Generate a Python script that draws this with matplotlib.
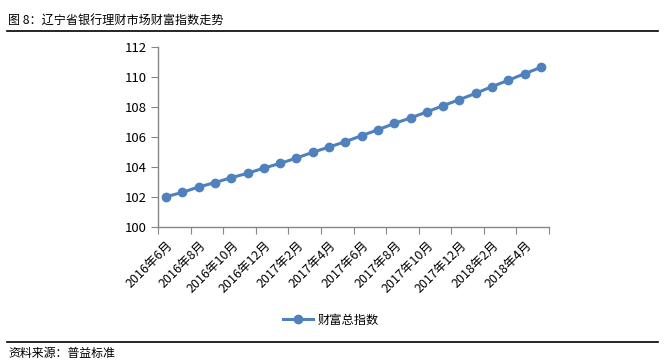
import matplotlib
import matplotlib.pyplot as plt
import matplotlib.transforms as mtransforms
import numpy as np

matplotlib.use('Agg')
plt.rcParams['font.family'] = ['Noto Sans CJK SC', 'DejaVu Sans']

# monthly data, 2016-06 .. 2018-05
months = ['2016年6月', '2016年7月', '2016年8月', '2016年9月', '2016年10月', '2016年11月',
          '2016年12月', '2017年1月', '2017年2月', '2017年3月', '2017年4月', '2017年5月',
          '2017年6月', '2017年7月', '2017年8月', '2017年9月', '2017年10月', '2017年11月',
          '2017年12月', '2018年1月', '2018年2月', '2018年3月', '2018年4月', '2018年5月']
wealth_index = [102.02, 102.31, 102.67, 102.96, 103.29, 103.58, 103.93, 104.24,
                104.60, 104.98, 105.33, 105.69, 106.09, 106.48, 106.90, 107.27,
                107.67, 108.09, 108.49, 108.91, 109.36, 109.78, 110.22, 110.64]
series_name = '财富总指数'
title = '图 8：辽宁省银行理财市场财富指数走势'
source = '资料来源：普益标准'

W, H = 669, 363
fig = plt.figure(figsize=(W / 100, H / 100), dpi=100)
ax = fig.add_axes([158 / W, 1 - 227 / H, (549 - 158) / W, (227 - 47) / H])

x = np.arange(len(months))
line, = ax.plot(x, wealth_index, color='#4F81BD', lw=2.2, marker='o',
                markersize=6, markeredgecolor='#4F81BD', markerfacecolor='#4F81BD')

ax.set_xlim(-0.5, len(months) - 0.5)
ax.set_ylim(100, 112)
ax.set_yticks(np.arange(100, 113, 2))

# major ticks at category boundaries, labels on every second category
ax.set_xticks(np.arange(-0.5, len(months), 2))
ax.set_xticklabels([])
ax.set_xticks(x[::2], minor=True)
ax.set_xticklabels(months[::2], minor=True, rotation=45, ha='right',
                   va='center', rotation_mode='anchor', fontsize=9)
ax.tick_params(axis='x', which='minor', length=0, pad=12)
ax.tick_params(axis='x', which='major', length=5, color='#868686', direction='out')
ax.tick_params(axis='y', length=5, color='#868686', labelsize=9.5, pad=3)

# nudge rotated labels a bit to the right, like the original
shift = mtransforms.ScaledTranslation(5 / 100, 0, fig.dpi_scale_trans)
for lab in ax.get_xticklabels(minor=True):
    lab.set_transform(lab.get_transform() + shift)

for side in ['top', 'right']:
    ax.spines[side].set_visible(False)
for side in ['left', 'bottom']:
    ax.spines[side].set_color('#868686')
    ax.spines[side].set_linewidth(1)

fig.legend([line], [series_name], loc='center', bbox_to_anchor=(331 / W, 1 - 320 / H),
           frameon=False, fontsize=8.8, handlelength=2.4, handletextpad=0.4)

# header / footer
fig.text(8 / W, 1 - 20 / H, title, fontsize=8.7, va='center', ha='left')
fig.add_artist(plt.Line2D([7 / W, 658 / W], [1 - 31 / H, 1 - 31 / H], color='black', lw=1.2))
fig.add_artist(plt.Line2D([7 / W, 658 / W], [1 - 342 / H, 1 - 342 / H], color='black', lw=1.2))
fig.text(8 / W, 1 - 353 / H, source, fontsize=8.6, va='center', ha='left')

fig.savefig('out.png', dpi=100)
